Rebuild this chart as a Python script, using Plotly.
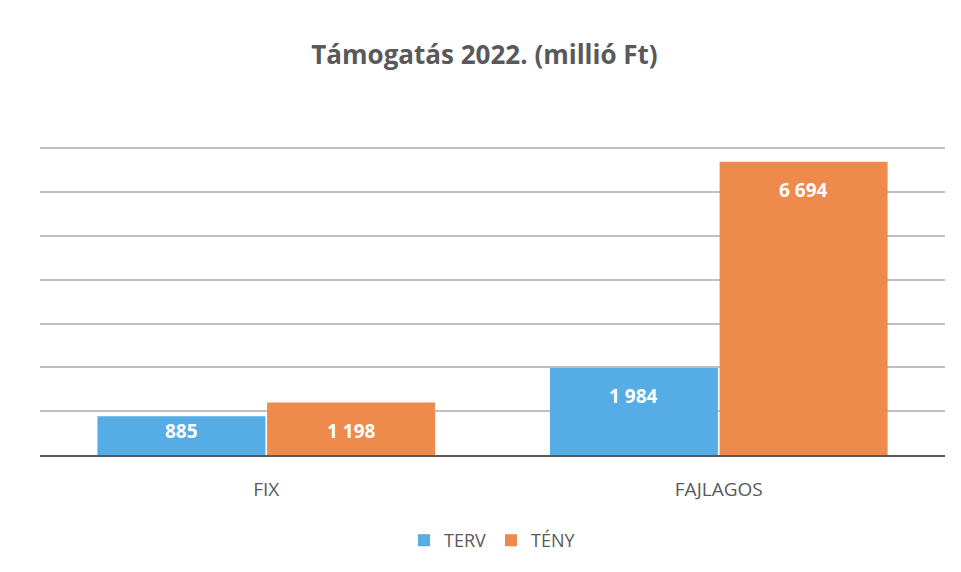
"""Támogatás 2022 bar chart."""

import plotly.graph_objects as go

categories = ["FIX", "FAJLAGOS"]
series_names = ["TERV", "TÉNY"]
terv = [885, 1984]
teny = [1198, 6694]

BLUE = "#56ADE6"
ORANGE = "#EE8A4B"
GREY = "#595959"

# page body has an 8px margin, so the figure is sized/offset to compensate
W, H = 953, 564
M = dict(l=32, r=16, t=136, b=117)
Y_MAX = 7100
px_per_unit = (H - M["t"] - M["b"]) / Y_MAX

fig = go.Figure()
for name, vals, color, off in [(series_names[0], terv, BLUE, -0.5), (series_names[1], teny, ORANGE, 0.5)]:
    fig.add_trace(go.Bar(name=name, x=categories, y=vals, marker_color=color, marker_line_width=0,
                         offsetgroup=name))
    # labels at the inside end of the bar, kept inside short bars
    for i, (cat, v) in enumerate(zip(categories, vals)):
        shift = min(28, v * px_per_unit - 24)
        fig.add_annotation(x=i + off * 0.375, y=v, yshift=-shift, text=f"<b>{v:,}</b>".replace(",", " "),
                           showarrow=False, font=dict(color="white", size=19, family="Open Sans"),
                           xref="x", yref="y")

fig.update_layout(
    title=dict(text="<b>Támogatás 2022. (millió Ft)</b>", x=0.5, xanchor="center", y=1 - 47 / H, yanchor="middle",
               font=dict(size=26, color=GREY, family="Open Sans")),
    barmode="group",
    bargap=0.25,
    bargroupgap=0.01,
    plot_bgcolor="white",
    paper_bgcolor="white",
    font=dict(family="Open Sans", color=GREY),
    width=W,
    height=H,
    margin=M,
    legend=dict(orientation="h", x=0.5, xanchor="center", y=-0.275, yanchor="middle",
                font=dict(size=18, color=GREY), itemwidth=30),
    showlegend=True,
)
fig.update_xaxes(showline=True, linecolor=GREY, linewidth=2, ticks="", tickfont=dict(size=19, color=GREY),
                 ticklabelstandoff=16)
fig.update_yaxes(range=[0, Y_MAX], dtick=1000, showticklabels=False, gridcolor="#BFBFBF", gridwidth=1.5,
                 zeroline=False)

fig.write_html("out.html")
